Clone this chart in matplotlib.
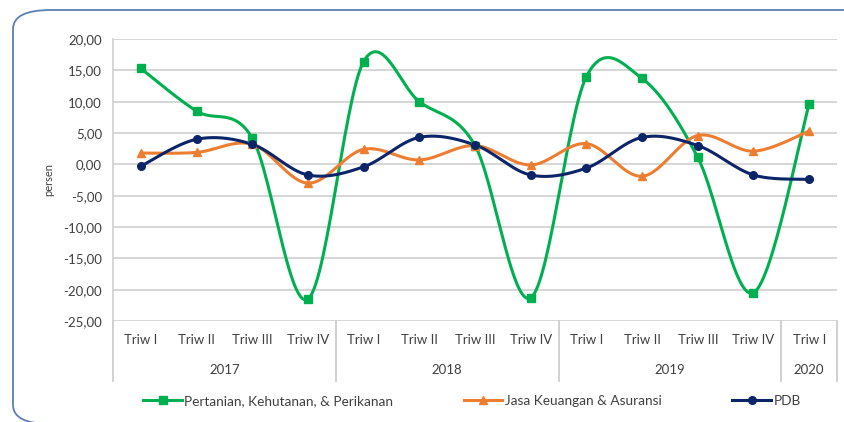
import numpy as np
import matplotlib
matplotlib.use('Agg')
import matplotlib.pyplot as plt
import matplotlib.patches as mpatches
import matplotlib.transforms as mtransforms
from matplotlib.lines import Line2D

plt.rcParams['font.family'] = ['Lato', 'DejaVu Sans']

# data
quarters = ['Triw I', 'Triw II', 'Triw III', 'Triw IV',
            'Triw I', 'Triw II', 'Triw III', 'Triw IV',
            'Triw I', 'Triw II', 'Triw III', 'Triw IV',
            'Triw I']
years = ['2017', '2018', '2019', '2020']
year_counts = [4, 4, 4, 1]

pertanian = [15.3, 8.5, 4.2, -21.5, 16.4, 10.0, 3.0, -21.3, 14.0, 13.7, 1.1, -20.5, 9.6]
jasa_keuangan = [1.8, 1.9, 3.2, -3.0, 2.4, 0.7, 3.0, -0.1, 3.3, -1.9, 4.6, 2.1, 5.3]
pdb = [-0.3, 4.0, 3.2, -1.7, -0.4, 4.3, 3.1, -1.7, -0.6, 4.3, 3.0, -1.7, -2.4]

series = [
    ('Pertanian, Kehutanan, & Perikanan', pertanian, '#00b050', 's', 6),
    ('Jasa Keuangan & Asuransi', jasa_keuangan, '#ed7d31', '^', 6),
    ('PDB', pdb, '#0c2468', 'o', 5.5),
]


def smooth(x, y, steps=30):
    # Excel-style smoothed line (Catmull-Rom as cubic Bezier)
    x = np.asarray(x, float)
    y = np.asarray(y, float)
    px = np.concatenate([[x[0]], x, [x[-1]]])
    py = np.concatenate([[y[0]], y, [y[-1]]])
    xs, ys = [], []
    t = np.linspace(0, 1, steps)
    for i in range(1, len(px) - 2):
        p0 = np.array([px[i], py[i]])
        p3 = np.array([px[i + 1], py[i + 1]])
        p1 = p0 + (np.array([px[i + 1], py[i + 1]]) - np.array([px[i - 1], py[i - 1]])) / 6
        p2 = p3 - (np.array([px[i + 2], py[i + 2]]) - np.array([px[i], py[i]])) / 6
        b = ((1 - t) ** 3)[:, None] * p0 + (3 * (1 - t) ** 2 * t)[:, None] * p1 \
            + (3 * (1 - t) * t ** 2)[:, None] * p2 + (t ** 3)[:, None] * p3
        xs.extend(b[:, 0])
        ys.extend(b[:, 1])
    return np.array(xs), np.array(ys)


fig = plt.figure(figsize=(8.45, 4.22), dpi=100)

# rounded frame
frame = mpatches.FancyBboxPatch((13 / 845, -2 / 422), 1.2, 1 - 8 / 422,
                                boxstyle='round,pad=0,rounding_size=0.045',
                                transform=fig.transFigure, facecolor='none',
                                edgecolor='#5b7fb5', linewidth=1.3, zorder=-1)
fig.patches.append(frame)

ax = fig.add_axes([113 / 845, 1 - 321 / 422, 724 / 845, 282 / 422])
ax.set_facecolor('none')

x = np.arange(len(quarters))
for name, vals, color, marker, ms in series:
    sx, sy = smooth(x, vals)
    ax.plot(sx, sy, color=color, linewidth=2.2, solid_capstyle='round', zorder=3)
    ax.plot(x, vals, linestyle='none', marker=marker, color=color,
            markersize=ms, zorder=4)

ax.set_xlim(-0.5, len(quarters) - 0.5)
ax.set_ylim(-25, 20)
ax.set_yticks(np.arange(-25, 21, 5))
ax.set_yticklabels([f'{v:.2f}'.replace('.', ',') for v in np.arange(-25, 21, 5)],
                   fontsize=9.5, color='#404040')
ax.tick_params(axis='y', length=0, pad=8)
ax.yaxis.grid(True, color='#d0d0d0', linewidth=1.2)
ax.set_axisbelow(True)
for s in ['top', 'right', 'bottom']:
    ax.spines[s].set_visible(False)
ax.spines['left'].set_color('#d0d0d0')
ax.spines['left'].set_linewidth(1.2)
ax.set_ylabel('persen', fontsize=8, color='#404040', labelpad=6)

# multi-level category axis
ax.set_xticks(x)
ax.set_xticklabels(quarters, fontsize=9.5, color='#404040')
ax.tick_params(axis='x', length=0, pad=9)

trans = mtransforms.blended_transform_factory(ax.transData, ax.transAxes)
bounds = np.concatenate([[0], np.cumsum(year_counts)]) - 0.5
for b in bounds:
    ax.add_line(Line2D([b, b], [0, -60 / 282], transform=trans, color='#c8c8c8',
                       linewidth=1.2, clip_on=False))
for i, yr in enumerate(years):
    mid = (bounds[i] + bounds[i + 1]) / 2
    ax.text(mid, -49 / 282, yr, transform=trans, ha='center', va='center',
            fontsize=9.5, color='#404040')

# legend
handles = [Line2D([0], [0], color=c, marker=m, markersize=ms, linewidth=2.2)
           for _, _, c, m, ms in series]
labels = [s[0] for s in series]
fig.legend(handles, labels, loc='center', bbox_to_anchor=(472 / 845, 1 - 401 / 422),
           ncol=3, frameon=False, fontsize=9.8, handlelength=2.8,
           columnspacing=5.2, handletextpad=0.2, labelcolor='#404040')

plt.savefig('out.png', dpi=100)
